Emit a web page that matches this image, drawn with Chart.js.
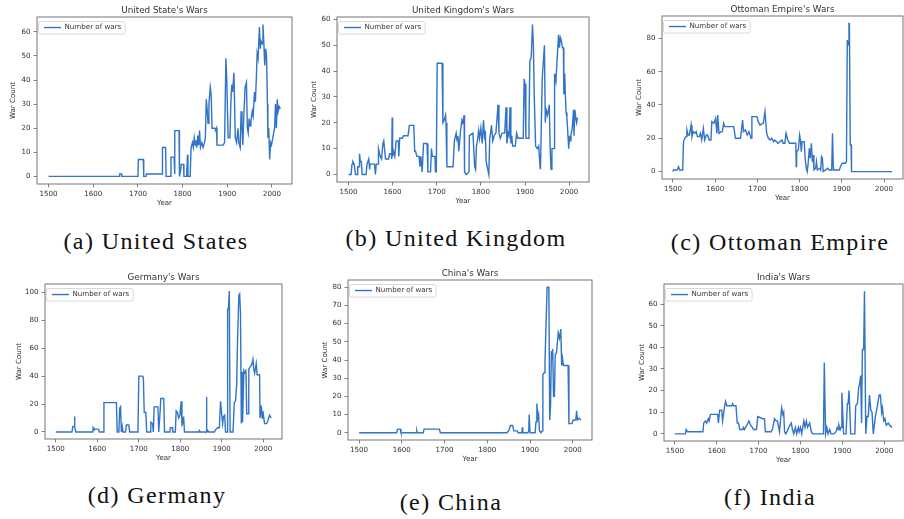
<!DOCTYPE html>
<html>
<head>
<meta charset="utf-8">
<script src="https://cdn.jsdelivr.net/npm/chart.js@4.4.1/dist/chart.umd.min.js"></script>
<style>
  html, body { margin: 0; padding: 0; background: #fff; }
  body { width: 904px; height: 519px; overflow: hidden; position: relative; }
  canvas { position: absolute; }
  .cap {
    position: absolute; transform: translate(-50%, -50%); white-space: nowrap;
    font-family: "Liberation Serif", serif; font-size: 24px; letter-spacing: 1.4px; color: #111;
  }
</style>
</head>
<body>
<script>
// ---- data (year, number of wars) ----
const yearTicks = [1500, 1600, 1700, 1800, 1900, 2000];

const usYears = [1500,1658,1659,1663,1664,1700,1701,1712,1713,1718,1719,1754,1755,1762,1763,1773,1774,1781,1782,1783,1792,1793,1796,1797,1802,1803,1809,1811,1812,1817,1819,1822,1824,1826,1828,1830,1832,1834,1836,1838,1840,1843,1846,1849,1851,1853,1855,1857,1859,1862,1864,1866,1872,1874,1876,1877,1891,1894,1897,1899,1902,1906,1908,1910,1912,1915,1918,1921,1924,1926,1929,1931,1933,1935,1937,1940,1943,1945,1947,1949,1951,1953,1956,1958,1961,1963,1965,1967,1969,1972,1974,1976,1978,1980,1982,1984,1986,1988,1990,1991,1993,1995,1997,1999,2002,2004,2006,2008,2010,2012,2014,2016,2019];
const usWars  = [0,0,1,1,0,0,7,7,0,0,1,1,12,12,0,0,8,8,1,19,19,0,3,5,5,0,0,9,0,0,12,14,12,16,13,15,12,17,13,19,12,14,12,14,16,32,28,22,30,37,34,20,20,19,20,13,13,14,49,40,16,16,30,38,35,43,16,14,20,14,12,27,20,13,25,37,39,20,18,24,21,23,27,25,35,31,40,51,49,62,53,56,55,63,55,46,53,50,30,16,20,7,14,13,16,18,20,30,20,32,27,29,28];
const usTicks = [0, 10, 20, 30, 40, 50, 60];

const ukYears = [1500,1506,1508,1510,1513,1516,1520,1521,1524,1525,1527,1529,1531,1540,1542,1546,1548,1549,1559,1561,1563,1567,1568,1572,1575,1578,1580,1584,1591,1593,1597,1598,1599,1600,1602,1605,1608,1613,1614,1616,1622,1625,1635,1638,1648,1650,1652,1655,1660,1662,1664,1667,1670,1678,1680,1686,1688,1690,1696,1697,1699,1701,1712,1714,1717,1720,1721,1723,1737,1740,1744,1746,1748,1750,1754,1757,1759,1762,1763,1767,1773,1774,1782,1786,1788,1790,1793,1795,1797,1800,1803,1806,1808,1810,1812,1818,1820,1822,1824,1827,1830,1834,1839,1841,1844,1848,1854,1857,1859,1862,1864,1866,1868,1870,1872,1878,1881,1884,1896,1898,1900,1902,1907,1909,1911,1914,1917,1919,1921,1924,1928,1931,1934,1935,1939,1944,1946,1948,1951,1955,1957,1959,1961,1966,1967,1970,1976,1978,1980,1982,1985,1987,1988,1990,1991,1993,1995,1999,2001,2002,2004,2007,2010,2011,2013,2015,2017,2019];
const ukWars  = [0,0,4,5,4,0,0,3,3,8,5,5,0,0,4,6,2,4,4,0,4,4,10,7,6,12,13,6,6,8,8,6,22,7,9,7,13,13,7,14,14,15,15,19,19,9,9,7,7,3,7,1,12,12,1,1,10,7,7,1,1,43,43,20,21,23,20,3,3,13,16,13,15,9,17,21,20,23,1,0,1,15,16,3,2,11,14,17,14,18,12,21,15,17,5,0,14,16,19,13,15,16,27,16,14,16,16,26,12,16,15,26,12,15,11,11,16,14,14,37,35,14,14,19,44,45,58,50,30,11,10,11,3,2,37,50,20,25,23,27,10,2,10,10,39,36,54,49,53,52,49,49,31,39,33,24,22,10,15,13,15,18,25,15,25,22,20,22];
const ukTicks = [0, 10, 20, 30, 40, 50, 60];

const otYears = [1500,1501,1510,1513,1516,1523,1525,1528,1531,1533,1536,1539,1543,1545,1548,1552,1555,1558,1562,1565,1568,1572,1575,1579,1582,1586,1590,1592,1597,1601,1604,1606,1609,1614,1617,1620,1623,1644,1648,1660,1665,1667,1672,1676,1680,1685,1687,1699,1702,1706,1714,1718,1722,1726,1730,1734,1738,1741,1749,1758,1761,1765,1768,1772,1776,1791,1792,1793,1797,1800,1802,1804,1806,1811,1813,1816,1818,1820,1823,1825,1828,1830,1832,1834,1838,1840,1842,1848,1850,1852,1854,1856,1862,1866,1870,1876,1878,1880,1894,1897,1901,1909,1911,1913,1915,1917,1918,1920,1922,1923,2019];
const otWars  = [0,1,1,3,1,1,18,20,21,25,22,22,28,21,24,23,24,21,21,23,19,26,19,22,22,19,19,30,29,32,23,34,23,24,24,29,27,27,20,20,31,24,25,22,24,20,33,33,30,28,29,36,23,20,19,20,18,19,17,19,17,17,23,19,17,17,3,12,13,22,19,12,18,18,8,2,0,4,14,8,17,6,10,1,2,6,1,2,1,9,8,0,1,2,1,1,23,1,1,3,5,5,6,79,76,89,89,16,16,0,0];
const otTicks = [0, 20, 40, 60, 80];

const deYears = [1500,1539,1541,1544,1545,1546,1548,1589,1590,1592,1603,1605,1614,1616,1646,1648,1652,1654,1656,1658,1660,1662,1668,1670,1676,1678,1698,1700,1709,1711,1713,1717,1719,1727,1729,1733,1735,1737,1746,1748,1751,1753,1760,1762,1775,1776,1781,1782,1788,1790,1793,1796,1799,1802,1804,1806,1808,1810,1845,1846,1848,1862,1863,1864,1866,1868,1882,1886,1890,1894,1897,1900,1902,1904,1907,1909,1913,1914,1916,1918,1920,1927,1930,1933,1936,1938,1941,1943,1945,1947,1949,1950,1953,1956,1958,1960,1964,1965,1969,1972,1975,1977,1979,1983,1985,1991,1992,1995,1997,1999,2003,2008,2011,2015,2019];
const deWars  = [0,0,4,4,11,4,0,0,3,2,2,0,0,21,21,0,0,17,18,0,4,0,0,5,5,0,0,40,40,39,14,14,0,0,7,6,0,18,18,0,13,24,24,0,0,3,3,0,0,15,14,10,12,22,5,6,11,0,0,1,0,0,25,0,1,0,0,2,3,3,22,12,6,11,12,0,0,88,88,101,0,0,21,22,35,67,98,99,85,6,43,7,44,42,45,13,13,45,47,48,52,45,42,49,41,41,10,19,10,15,6,6,8,12,10];
const deTicks = [0, 20, 40, 60, 80, 100];

const cnYears = [1500,1588,1590,1596,1598,1634,1635,1636,1650,1652,1688,1690,1846,1850,1854,1859,1862,1870,1872,1881,1882,1883,1895,1897,1898,1900,1912,1914,1916,1918,1920,1922,1926,1928,1930,1933,1935,1937,1940,1944,1946,1948,1950,1952,1953,1955,1957,1959,1962,1966,1969,1972,1974,1976,1978,1989,1991,1998,2001,2007,2009,2011,2015,2019];
const cnWars  = [0,0,2,2,0,0,1,0,0,2,2,0,0,1,4,4,1,1,0,0,3,0,0,1,10,0,0,6,16,8,10,1,0,1,32,33,39,56,80,80,7,15,45,40,46,20,20,43,44,55,52,57,37,41,37,37,5,5,7,7,12,7,8,7];
const cnTicks = [0, 10, 20, 30, 40, 50, 60, 70, 80];

const inYears = [1500,1525,1527,1530,1567,1569,1573,1576,1580,1582,1585,1602,1604,1607,1612,1614,1619,1621,1624,1636,1638,1640,1646,1649,1652,1655,1662,1664,1666,1669,1672,1677,1681,1685,1688,1695,1698,1710,1714,1716,1730,1733,1738,1742,1745,1748,1750,1755,1758,1760,1762,1765,1768,1772,1778,1781,1784,1788,1791,1795,1797,1800,1803,1808,1811,1814,1817,1822,1826,1829,1855,1857,1860,1863,1866,1870,1873,1880,1885,1888,1890,1892,1895,1897,1899,1903,1909,1912,1914,1916,1920,1930,1932,1936,1939,1942,1944,1946,1948,1951,1953,1956,1959,1962,1965,1968,1971,1974,1979,1983,1988,1991,1994,1996,1999,2002,2005,2010,2013,2019];
const inWars  = [0,0,2,1,1,5,6,5,7,6,9,9,5,11,11,6,13,15,13,13,14,13,13,5,5,2,2,3,2,3,4,6,4,3,2,2,8,7,7,1,1,2,7,6,6,3,1,12,9,10,1,0,1,3,5,2,0,3,0,3,1,3,0,6,3,6,3,5,1,0,0,33,0,3,0,2,0,0,1,3,2,4,2,3,19,0,0,14,14,20,0,0,13,14,21,24,27,5,39,39,66,0,8,8,18,11,10,0,8,12,18,18,10,12,6,7,4,5,4,3];
const inTicks = [0, 10, 20, 30, 40, 50, 60];

// ---- layout of the six panels (page pixels) ----
const panels = [
  { title: "United State's Wars",   caption: "(a) United States",  years: usYears, wars: usWars, yTicks: usTicks, l: 37,  t: 17,  r: 292, b: 184, yGap: 23.7, cx: 156, cy: 241 },
  { title: "United Kingdom's Wars", caption: "(b) United Kingdom", years: ukYears, wars: ukWars, yTicks: ukTicks, l: 337, t: 17,  r: 589, b: 182, yGap: 22.7, cx: 456, cy: 238 },
  { title: "Ottoman Empire's Wars", caption: "(c) Ottoman Empire", years: otYears, wars: otWars, yTicks: otTicks, l: 662, t: 16,  r: 903, b: 179, yGap: 23,   cx: 780, cy: 242 },
  { title: "Germany's Wars",        caption: "(d) Germany",        years: deYears, wars: deWars, yTicks: deTicks, l: 45,  t: 284, r: 282, b: 439, yGap: 26,   cx: 157, cy: 495 },
  { title: "China's Wars",          caption: "(e) China",          years: cnYears, wars: cnWars, yTicks: cnTicks, l: 348, t: 280, r: 592, b: 440, yGap: 23,   cx: 451, cy: 502 },
  { title: "India's Wars",          caption: "(f) India",          years: inYears, wars: inWars, yTicks: inTicks, l: 664, t: 284, r: 903, b: 441, yGap: 22.3, cx: 770, cy: 497 }
];

const FONT = "'DejaVu Sans', sans-serif";
const TEXT = '#333';
const AXIS = '#666';
const LINE = '#3274c6';
const TICK_SIZE = 7.1;
const TITLE_SIZE = 8.8;
const LH = 1.2;

// matplotlib-like frame around the axes and a boxed legend inside it
const framePlugin = {
  id: 'frame',
  afterLayout(chart) {
    // pin the legend to the top-left corner of the plot area
    const lg = chart.legend, a = chart.chartArea;
    if (!lg) return;
    lg.left = a.left;
    lg.top = a.top;
    lg.right = a.right;
    lg.bottom = a.top + lg.height;
  },
  beforeDraw(chart) {
    const lg = chart.legend;
    if (!lg || !lg.legendHitBoxes || !lg.legendHitBoxes.length) return;
    const h = lg.legendHitBoxes[0];
    const ctx = chart.ctx;
    const x = h.left - 5.5, y = h.top - 2.5, w = h.width + 9.5, hh = h.height + 5.5;
    ctx.save();
    ctx.beginPath();
    ctx.roundRect(x, y, w, hh, 2);
    ctx.fillStyle = 'rgba(255,255,255,0.8)';
    ctx.fill();
    ctx.lineWidth = 0.8;
    ctx.strokeStyle = '#cfcfcf';
    ctx.stroke();
    ctx.restore();
  },
  afterDraw(chart) {
    const a = chart.chartArea, ctx = chart.ctx;
    ctx.save();
    ctx.lineWidth = 0.9;
    ctx.strokeStyle = AXIS;
    ctx.strokeRect(a.left, a.top, a.right - a.left, a.bottom - a.top);
    ctx.restore();
  }
};

panels.forEach(p => {
  const tickLH = TICK_SIZE * LH;
  const titleLH = TITLE_SIZE * LH;
  const titlePadB = 1.5;

  const cl = Math.floor(p.l - p.yGap - tickLH / 2 - 2);
  const yTitlePad = (p.l - p.yGap) - cl - tickLH / 2;
  const yW = p.l - cl;

  const ct = Math.floor(p.t - titleLH - titlePadB);
  const titlePadT = p.t - ct - titleLH - titlePadB;

  const width = Math.ceil(p.r + 1 - cl);
  const padR = cl + width - p.r;

  const height = Math.ceil(p.b - ct + 19 + tickLH / 2 + 0.5);
  const xH = height - (p.b - ct);
  const xTitlePadB = (ct + height) - (p.b + 19) - tickLH / 2;

  const canvas = document.createElement('canvas');
  canvas.width = width;
  canvas.height = height;
  canvas.style.left = cl + 'px';
  canvas.style.top = ct + 'px';
  canvas.style.width = width + 'px';
  canvas.style.height = height + 'px';
  document.body.appendChild(canvas);

  const cap = document.createElement('div');
  cap.className = 'cap';
  cap.style.left = p.cx + 'px';
  cap.style.top = p.cy + 'px';
  cap.textContent = p.caption;
  document.body.appendChild(cap);

  const top = Math.max(...p.wars);
  const tickFont = { family: FONT, size: TICK_SIZE };
  const grid = { display: true, drawOnChartArea: false, drawTicks: true, tickLength: 3.5, color: AXIS, lineWidth: 0.8 };

  new Chart(canvas, {
    type: 'line',
    data: {
      datasets: [{
        label: 'Number of wars',
        data: p.years.map((x, i) => ({ x: x, y: p.wars[i] })),
        borderColor: LINE,
        backgroundColor: LINE,
        borderWidth: 1.4,
        pointRadius: 0,
        tension: 0,
        fill: false
      }]
    },
    options: {
      responsive: false,
      animation: false,
      layout: { padding: { left: 0, top: 0, bottom: 0, right: padR } },
      plugins: {
        title: {
          display: true, text: p.title, fullSize: false, color: TEXT,
          font: { family: FONT, size: TITLE_SIZE, weight: 'normal', lineHeight: LH },
          padding: { top: titlePadT, bottom: titlePadB }
        },
        legend: {
          position: 'chartArea', align: 'start',
          labels: {
            usePointStyle: true, pointStyle: 'line', pointStyleWidth: 17, boxHeight: 7,
            padding: 7, color: TEXT, font: { family: FONT, size: TICK_SIZE }
          }
        },
        tooltip: { enabled: false }
      },
      scales: {
        x: {
          type: 'linear', min: 1474, max: 2045,
          afterBuildTicks: s => { s.ticks = yearTicks.map(v => ({ value: v })); },
          afterFit: s => { s.height = xH; },
          ticks: { callback: v => String(v), font: tickFont, color: TEXT, padding: 2, maxRotation: 0, autoSkip: false },
          grid: grid,
          border: { display: false },
          title: { display: true, text: 'Year', color: TEXT, font: { family: FONT, size: TICK_SIZE, lineHeight: LH }, padding: { top: 0, bottom: xTitlePadB } }
        },
        y: {
          type: 'linear', min: -0.05 * top, max: 1.05 * top,
          afterBuildTicks: s => { s.ticks = p.yTicks.map(v => ({ value: v })); },
          afterFit: s => { s.width = yW; },
          ticks: { callback: v => String(v), font: tickFont, color: TEXT, padding: 3, autoSkip: false },
          grid: grid,
          border: { display: false },
          title: { display: true, text: 'War Count', color: TEXT, font: { family: FONT, size: TICK_SIZE, lineHeight: LH }, padding: { top: yTitlePad, bottom: 0 } }
        }
      }
    },
    plugins: [framePlugin]
  });
});
</script>
</body>
</html>
